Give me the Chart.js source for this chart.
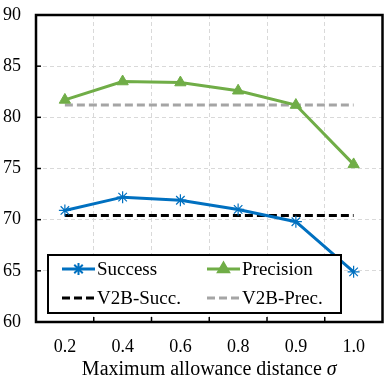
<!DOCTYPE html>
<html>
<head>
<meta charset="utf-8">
<script src="https://cdn.jsdelivr.net/npm/chart.js@4"></script>
<style>
html,body{margin:0;padding:0;background:#fff;}
#wrap{width:390px;height:386px;position:relative;}
</style>
</head>
<body>
<div id="wrap"><canvas id="c" width="390" height="386"></canvas></div>
<script>
const categories = ['0.2','0.4','0.6','0.8','0.9','1.0'];
const successValues = [70.9, 72.2, 71.9, 71.0, 69.8, 64.9];
const precisionValues = [81.7, 83.5, 83.4, 82.6, 81.2, 75.4];
const v2bSucc = 70.4;
const v2bPrec = 81.2;
const yTicks = [60, 65, 70, 75, 80, 85, 90];
const seriesNames = ['Success', 'Precision', 'V2B-Succ.', 'V2B-Prec.'];
const xTitle = 'Maximum allowance distance ';
const xTitleSymbol = 'σ';

const FONT = '"Liberation Serif", "Times New Roman", serif';
const BLUE = '#0070C0';
const GREEN = '#70AD47';

const framePlugin = {
  id: 'frame',
  afterDatasetsDraw(chart) {
    const {ctx, chartArea: a} = chart;
    ctx.save();
    ctx.strokeStyle = '#000';
    ctx.lineWidth = 1.5;
    const xs = chart.scales.x;
    const n = categories.length;
    for (let i = 1; i < n; i++) {
      const px = (xs.getPixelForValue(i - 1) + xs.getPixelForValue(i)) / 2;
      ctx.beginPath(); ctx.moveTo(px, a.bottom); ctx.lineTo(px, a.bottom - 5); ctx.stroke();
    }
    const ys = chart.scales.y;
    yTicks.forEach(v => {
      const py = ys.getPixelForValue(v);
      ctx.beginPath(); ctx.moveTo(a.left, py); ctx.lineTo(a.left + 5, py); ctx.stroke();
    });
    ctx.lineWidth = 2.5;
    ctx.strokeRect(a.left, a.top, a.right - a.left, a.bottom - a.top);

    const lx = a.left + 12, ly = a.top + 240, lw = 293, lh = 58;
    ctx.fillStyle = '#fff';
    ctx.fillRect(lx, ly, lw, lh);
    ctx.lineWidth = 2;
    ctx.strokeStyle = '#000';
    ctx.strokeRect(lx, ly, lw, lh);
    const ds = chart.data.datasets;
    const cols = [lx + 14, lx + 159];
    const rows = [ly + 14, ly + 43];
    ctx.font = '19px ' + FONT;
    ctx.textBaseline = 'middle';
    ctx.textAlign = 'left';
    for (let k = 0; k < 4; k++) {
      const d = ds[k];
      const x0 = cols[k % 2], y0 = rows[Math.floor(k / 2)];
      ctx.save();
      ctx.strokeStyle = d.borderColor;
      ctx.lineWidth = d.borderWidth;
      ctx.setLineDash(d.borderDash || []);
      ctx.beginPath(); ctx.moveTo(x0, y0); ctx.lineTo(x0 + 33, y0); ctx.stroke();
      ctx.restore();
      if (d.pointRadius > 0) {
        ctx.save();
        ctx.fillStyle = d.pointBackgroundColor;
        ctx.strokeStyle = d.pointBorderColor;
        Chart.helpers.drawPoint(ctx, {pointStyle: d.pointStyle, radius: d.pointRadius, borderWidth: d.pointBorderWidth || 1.5, rotation: 0}, x0 + 16.5, y0);
        ctx.restore();
      }
      ctx.fillStyle = '#000';
      ctx.fillText(d.label, x0 + 35, y0 + 1);
    }

    ctx.fillStyle = '#000';
    ctx.textBaseline = 'alphabetic';
    ctx.font = '20px ' + FONT;
    const w1 = ctx.measureText(xTitle).width;
    ctx.font = 'italic 20px ' + FONT;
    const w2 = ctx.measureText(xTitleSymbol).width;
    const cx = (a.left + a.right) / 2;
    const sx = cx - (w1 + w2) / 2;
    ctx.font = '20px ' + FONT;
    ctx.fillText(xTitle, sx, 375);
    ctx.font = 'italic 20px ' + FONT;
    ctx.fillText(xTitleSymbol, sx + w1, 375);
    ctx.restore();
  }
};

const chart = new Chart(document.getElementById('c'), {
  type: 'line',
  data: {
    labels: categories,
    datasets: [
      {label: seriesNames[0], data: successValues, borderColor: BLUE, backgroundColor: BLUE,
       pointBackgroundColor: BLUE, pointBorderColor: BLUE, borderWidth: 3, pointStyle: 'star',
       pointRadius: 6, pointBorderWidth: 1.2, tension: 0, order: 0},
      {label: seriesNames[1], data: precisionValues, borderColor: GREEN, backgroundColor: GREEN,
       pointBackgroundColor: GREEN, pointBorderColor: GREEN, borderWidth: 3, pointStyle: 'triangle',
       pointRadius: 6.5, pointBorderWidth: 1, tension: 0, order: 1},
      {label: seriesNames[2], data: categories.map(() => v2bSucc), borderColor: '#000', backgroundColor: '#000',
       borderWidth: 3, borderDash: [8, 4], pointRadius: 0, order: 2},
      {label: seriesNames[3], data: categories.map(() => v2bPrec), borderColor: '#A5A5A5', backgroundColor: '#A5A5A5',
       borderWidth: 3, borderDash: [8, 4], pointRadius: 0, order: 3}
    ]
  },
  options: {
    responsive: false,
    animation: false,
    devicePixelRatio: 1,
    layout: {padding: {top: 15, right: 4, left: 0, bottom: 0}},
    plugins: {legend: {display: false}, tooltip: {enabled: false}},
    scales: {
      x: {
        type: 'category',
        offset: true,
        grid: {offset: true, drawTicks: false, color: '#D9D9D9', lineWidth: 1},
        border: {display: false, dash: [4, 3]},
        ticks: {font: {family: FONT, size: 18}, color: '#000', padding: 14, maxRotation: 0, autoSkip: false},
        afterFit(s) { s.height = 64; s.paddingLeft = 0; s.paddingRight = 0; }
      },
      y: {
        min: 60, max: 90,
        grid: {drawTicks: false, color: '#D9D9D9', lineWidth: 1},
        border: {display: false, dash: [4, 3]},
        ticks: {stepSize: 5, font: {family: FONT, size: 18}, color: '#000', padding: 15},
        afterFit(s) { s.width = 36; s.paddingTop = 0; s.paddingBottom = 0; }
      }
    }
  },
  plugins: [framePlugin]
});
</script>
</body>
</html>
